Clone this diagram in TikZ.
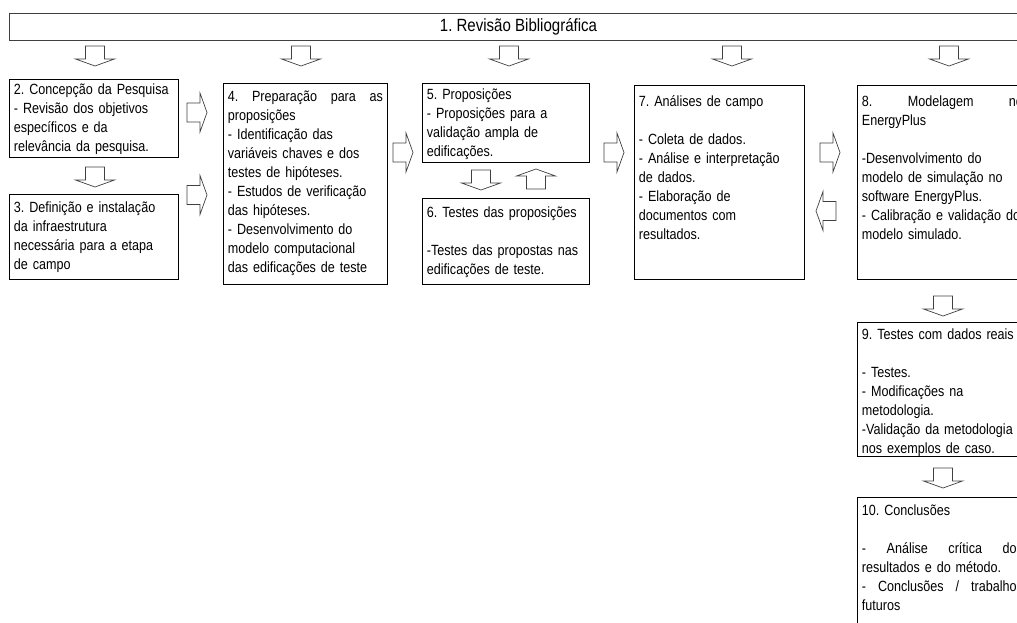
\documentclass[tikz,border=0pt]{standalone}
\usepackage{fontspec}
\setmainfont{Liberation Sans}[FakeStretch=0.85]
\frenchspacing
\newcommand{\corpo}{\fontsize{14.8}{19}\selectfont}
\newcommand{\titulo}{\fontsize{17.7}{20}\selectfont}
\tikzset{
  etapa/.style={draw, line width=0.8pt, anchor=north west, align=left, font=\corpo,
    inner xsep=4.5pt, text height=10pt},
  seta/.pic={\draw[black!75, line width=0.7pt] (0,-9.5) -- (13,-9.5) -- (13,-19.5) -- (20,0)
    -- (13,19.5) -- (13,9.5) -- (0,9.5) -- cycle;}
}
\begin{document}
\begin{tikzpicture}[x=1pt, y=-1pt]
  \useasboundingbox (0,0) rectangle (1017,623);
  \clip (0,0) rectangle (1017,623);

  % etapas
  \node[draw=black!75, line width=1pt, anchor=north west, minimum width=1018pt,
    minimum height=27pt, inner sep=0pt, font=\titulo] (revisao) at (9,13) {1. Revisão Bibliográfica};

  \node[etapa, text width=160pt, inner ysep=5pt, text depth=58pt] (concepcao) at (9,79)
    {2. Concepção da Pesquisa\\- Revisão dos objetivos\\específicos e da\\relevância da pesquisa.};
  \node[etapa, text width=160pt, inner ysep=8.5pt, text depth=58pt] (infra) at (9,194)
    {3. Definição e instalação\\da infraestrutura\\necessária para a etapa\\de campo};
  \node[etapa, text width=155pt, inner ysep=8.5pt, text depth=174pt] (preparacao) at (223,83)
    {4.\hfill Preparação\hfill para\hfill as\\proposições\\- Identificação das\\variáveis chaves e dos\\testes de hipóteses.\\- Estudos de verificação\\das hipóteses.\\- Desenvolvimento do\\modelo computacional\\das edificações de teste};
  \node[etapa, text width=158pt, inner ysep=6.5pt, text depth=56pt] (proposicoes) at (422,83)
    {5. Proposições\\- Proposições para a\\validação ampla de\\edificações.};
  \node[etapa, text width=158pt, inner ysep=9pt, text depth=58pt] (testes) at (422,198)
    {6. Testes das proposições\\[19pt]-Testes das propostas nas\\edificações de teste.};
  \node[etapa, text width=161pt, inner ysep=11pt, text depth=162pt] (analises) at (634,85)
    {7. Análises de campo\\[19pt]- Coleta de dados.\\- Análise e interpretação\\de dados.\\- Elaboração de\\documentos com\\resultados.};
  \node[etapa, text width=161pt, inner ysep=11pt, text depth=162pt] (modelagem) at (857,85)
    {8.\hfill Modelagem\hfill no\\EnergyPlus\\[19pt]-Desenvolvimento do\\modelo de simulação no\\software EnergyPlus.\\- Calibração e validação do\\modelo simulado.};
  \node[etapa, text width=161pt, inner ysep=7pt, text depth=110pt] (dados) at (857,322)
    {9. Testes com dados reais\\[19pt]- Testes.\\- Modificações na\\metodologia.\\-Validação da metodologia\\nos exemplos de caso.};
  \node[etapa, text width=161pt, inner ysep=8pt, text depth=114pt] (conclusoes) at (857,497)
    {10. Conclusões\\[19pt]-\hfill Análise\hfill crítica\hfill dos\\resultados e do método.\\-\hfill Conclusões\hfill /\hfill trabalhos\\futuros};

  % setas
  \foreach \x in {95,301,509,732,949}
    \pic[rotate=-90] at (\x,46) {seta};
  \pic[rotate=-90] at (95,167) {seta};
  \pic at (187,112.5) {seta};
  \pic at (187,195) {seta};
  \pic at (393,152.5) {seta};
  \pic[rotate=-90] at (481,170) {seta};
  \pic[rotate=90] at (536,189) {seta};
  \pic at (604,152.5) {seta};
  \pic at (820,152.5) {seta};
  \pic[rotate=180] at (836,211) {seta};
  \pic[rotate=-90] at (943,296) {seta};
  \pic[rotate=-90] at (943,468) {seta};
\end{tikzpicture}
\end{document}
